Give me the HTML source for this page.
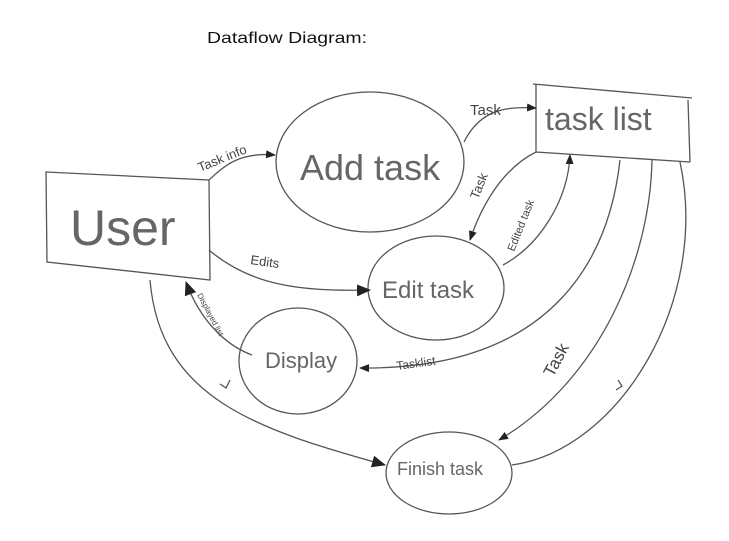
<!DOCTYPE html>
<html><head><meta charset="utf-8"><style>
html,body{margin:0;padding:0;background:#fff;width:729px;height:541px;overflow:hidden}
svg{display:block}
text{font-family:"Liberation Sans",sans-serif;fill:#444}
</style></head><body>
<svg width="729" height="541" viewBox="0 0 729 541" xmlns="http://www.w3.org/2000/svg">
<defs>
<marker id="a" markerWidth="10" markerHeight="8" refX="9" refY="4" orient="auto" markerUnits="userSpaceOnUse"><path d="M0,0 L10,4 L0,8 z" fill="#222"/></marker>
<marker id="b" markerWidth="14" markerHeight="12" refX="13" refY="6" orient="auto" markerUnits="userSpaceOnUse"><path d="M0,0 L14,6 L0,12 z" fill="#222"/></marker>
</defs>
<text x="207" y="43" font-size="16" style="fill:#111" textLength="160" lengthAdjust="spacingAndGlyphs">Dataflow Diagram:</text>
<g fill="none" stroke="#555" stroke-width="1.3">
<path d="M46,172 L209,180 L210,280 L47,262 Z"/>
<ellipse cx="370" cy="162" rx="94" ry="70"/>
<path d="M536,84 L536,152 L690,162 M533,84 L692,98 M690,162 L688,100"/>
<ellipse cx="436" cy="288" rx="68" ry="52"/>
<ellipse cx="298" cy="361" rx="59" ry="53"/>
<ellipse cx="449" cy="473" rx="63" ry="41"/>
<path d="M209,180 C225,165 240,152 275,155" marker-end="url(#a)"/>
<path d="M464,142 C480,110 505,106 536,108" marker-end="url(#a)"/>
<path d="M536,152 C500,170 480,210 470,240" marker-end="url(#a)"/>
<path d="M503,265 C540,245 568,200 570,155" marker-end="url(#a)"/>
<path d="M209,250 C250,285 300,292 370,290" marker-end="url(#b)"/>
<path d="M620,160 C610,250 560,370 360,368" marker-end="url(#a)"/>
<path d="M252,355 C225,345 200,320 186,282" marker-end="url(#b)"/>
<path d="M150,280 C160,400 260,430 385,465" marker-end="url(#b)"/>
<path d="M652,160 C650,260 600,380 499,440" marker-end="url(#a)"/>
<path d="M680,162 C710,300 620,450 512,465"/>
<path d="M220,384 l6,4 l4,-8 M618,380 l4,6 l-6,4"/>
</g>
<text x="70" y="245" font-size="50" style="fill:#666">User</text>
<text x="300" y="180" font-size="36" style="fill:#666">Add task</text>
<text x="545" y="130" font-size="32" style="fill:#666">task list</text>
<text x="382" y="298" font-size="24" style="fill:#666">Edit task</text>
<text x="265" y="368" font-size="22" style="fill:#666">Display</text>
<text x="397" y="475" font-size="18" style="fill:#666">Finish task</text>
<text x="0" y="0" font-size="13" transform="translate(200,172) rotate(-22)">Task info</text>
<text x="470" y="115" font-size="15">Task</text>
<text x="0" y="0" font-size="13" transform="translate(478,200) rotate(-68)">Task</text>
<text x="0" y="0" font-size="11" transform="translate(514,252) rotate(-68)">Edited task</text>
<text x="0" y="0" font-size="13" transform="translate(250,264) rotate(8)">Edits</text>
<text x="0" y="0" font-size="12" transform="translate(397,370) rotate(-8)">Tasklist</text>
<text x="0" y="0" font-size="8" transform="translate(197,295) rotate(62)">Displayed list</text>
<text x="0" y="0" font-size="17" transform="translate(553,378) rotate(-62)">Task</text>
</svg>
</body></html>
